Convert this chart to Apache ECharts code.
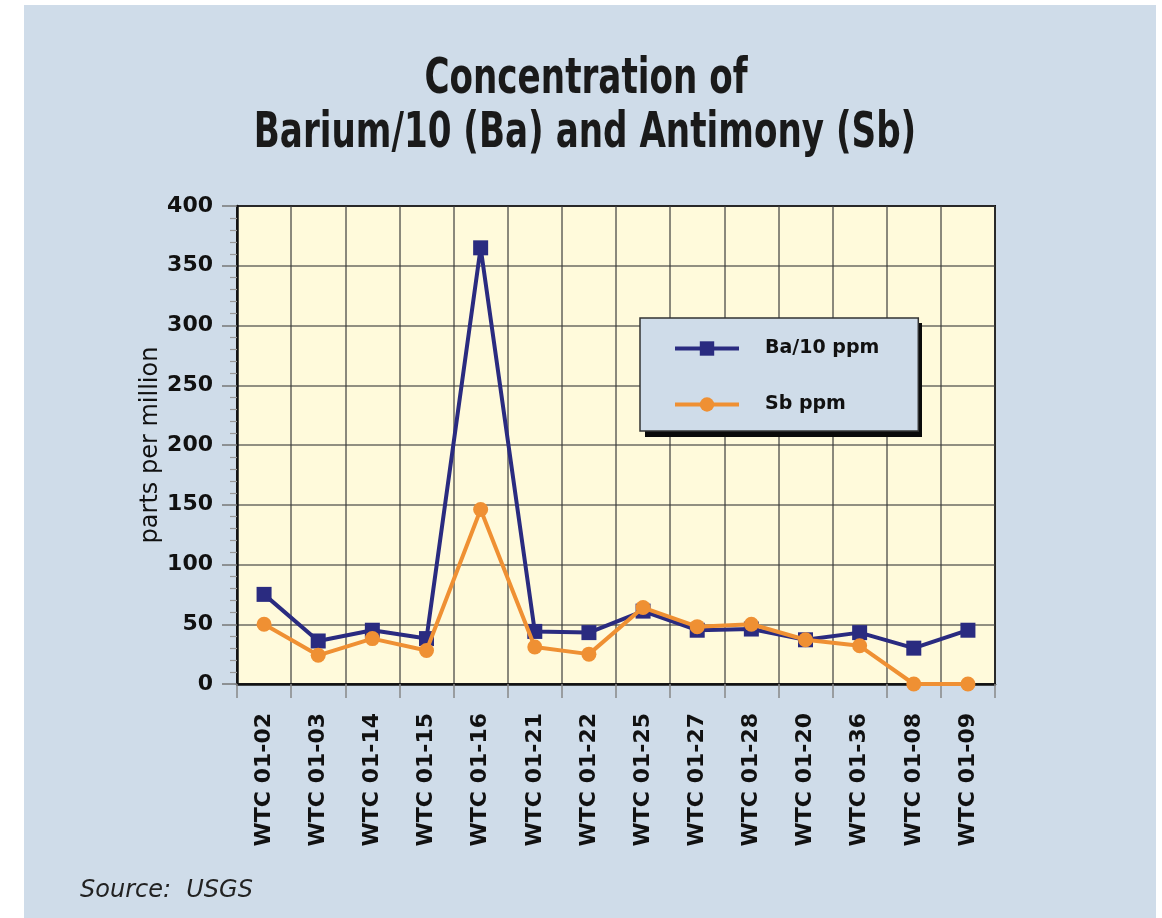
<!DOCTYPE html>
<html>
<head>
<meta charset="utf-8">
<script src="https://cdn.jsdelivr.net/npm/echarts@6/dist/echarts.min.js"></script>
<style>
html,body{margin:0;padding:0;background:#ffffff;}
#panel{position:absolute;left:24px;top:5px;width:1132px;height:913px;background:#cfdce9;}
#chart{position:absolute;left:0;top:0;width:1162px;height:918px;}
</style>
</head>
<body>
<div id="panel"></div>
<div id="chart"></div>
<script>
var categories = ['WTC 01-02','WTC 01-03','WTC 01-14','WTC 01-15','WTC 01-16','WTC 01-21','WTC 01-22','WTC 01-25','WTC 01-27','WTC 01-28','WTC 01-20','WTC 01-36','WTC 01-08','WTC 01-09'];
var baValues = [75, 36, 45, 38, 365, 44, 43, 61, 45, 46, 37, 43, 30, 45];
var sbValues = [50, 24, 38, 28, 146, 31, 25, 64, 48, 50, 37, 32, 0, 0];
var seriesNames = ['Ba/10 ppm', 'Sb ppm'];
var titleLines = ['Concentration of', 'Barium/10 (Ba) and Antimony (Sb)'];
var yAxisName = 'parts per million';
var sourceText = 'Source:  USGS';

var chart = echarts.init(document.getElementById('chart'), null, {renderer:'canvas'});
var titleFont = 'bold 38px "DejaVu Sans Condensed", "DejaVu Sans", sans-serif';
var option = {
  animation: false,
  backgroundColor: 'transparent',
  graphic: [
    {type:'text', x:586, y:80, scaleY:1.33, style:{text:titleLines[0], font:titleFont, fill:'#1a1a1a', align:'center', verticalAlign:'middle'}},
    {type:'text', x:585, y:134, scaleY:1.33, style:{text:titleLines[1], font:titleFont, fill:'#1a1a1a', align:'center', verticalAlign:'middle'}},
    {type:'text', x:80, y:891, style:{text:sourceText, font:'oblique 24px "DejaVu Sans", sans-serif', fill:'#222', align:'left', verticalAlign:'middle'}},
    {type:'rect', z:19, shape:{x:645, y:323, width:277, height:114}, style:{fill:'#0a0a0a'}}
  ],
  grid: {left:237, top:206, right:167, bottom:234, show:true, backgroundColor:'#fffadb', borderColor:'#111', borderWidth:2},
  legend: {
    data: seriesNames,
    orient: 'vertical',
    left: 640, top: 318,
    z: 20,
    padding: [21, 39, 17, 33],
    itemGap: 37,
    itemWidth: 64, itemHeight: 18,
    backgroundColor: '#cfdce9',
    borderColor: '#333', borderWidth: 1.5,
    lineStyle: {width: 4},
    textStyle: {fontFamily:'"DejaVu Sans", sans-serif', fontWeight:'bold', fontSize:19, color:'#111', padding:[0,0,0,21]}
  },
  xAxis: {
    type: 'category',
    data: categories,
    boundaryGap: true,
    axisLine: {show:true, lineStyle:{color:'#111', width:2.5}},
    axisTick: {show:true, length:14, lineStyle:{color:'#888', width:1.5}},
    axisLabel: {rotate:90, margin:29, fontFamily:'"DejaVu Sans", sans-serif', fontWeight:'bold', fontSize:22, color:'#111'},
    splitLine: {show:true, lineStyle:{color:'rgba(60,60,60,0.75)', width:1.6}}
  },
  yAxis: {
    type: 'value',
    min: 0, max: 400, interval: 50,
    name: yAxisName,
    nameLocation: 'middle',
    nameGap: 74,
    nameMoveOverlap: false,
    nameTextStyle: {fontFamily:'"DejaVu Sans", sans-serif', fontSize:24, color:'#111'},
    axisLine: {show:true, lineStyle:{color:'#111', width:2.5}},
    axisTick: {show:true, length:15, lineStyle:{color:'#777', width:1.5}},
    minorTick: {show:true, splitNumber:5, length:7, lineStyle:{color:'#999', width:1.2}},
    axisLabel: {margin:24, fontFamily:'"DejaVu Sans", sans-serif', fontWeight:'bold', fontSize:22, color:'#111'},
    splitLine: {show:true, lineStyle:{color:'rgba(60,60,60,0.75)', width:1.6}}
  },
  series: [
    {name: seriesNames[0], type:'line', data: baValues, symbol:'rect', symbolSize:15,
     lineStyle:{color:'#2a2b80', width:4}, itemStyle:{color:'#2a2b80'}, z:3},
    {name: seriesNames[1], type:'line', data: sbValues, symbol:'circle', symbolSize:15,
     lineStyle:{color:'#ef9033', width:4}, itemStyle:{color:'#ef9033'}, z:4}
  ]
};
chart.setOption(option);
</script>
</body>
</html>
